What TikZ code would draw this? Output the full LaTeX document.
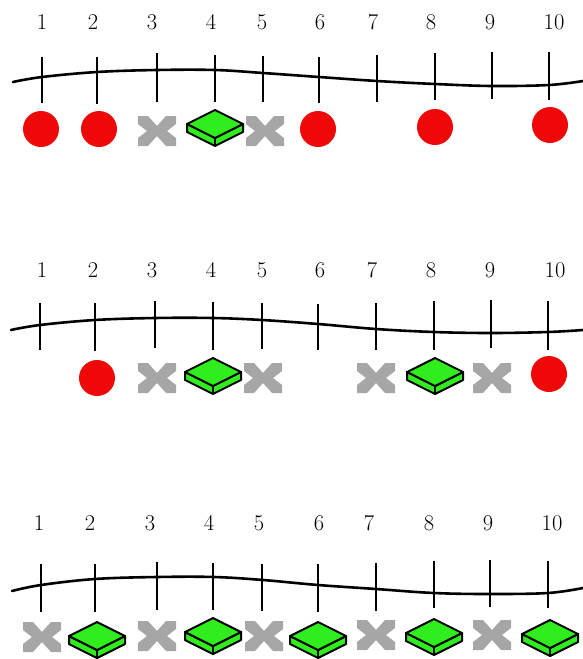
\documentclass[tikz,border=0pt]{standalone}
\begin{document}
\begin{tikzpicture}[x=1pt,y=-1pt]
\definecolor{stonered}{RGB}{238,8,8}
\definecolor{blockgreen}{RGB}{48,238,30}
\definecolor{crossgray}{RGB}{166,166,166}
\tikzset{
  numlabel/.style={font=\fontsize{22.5}{26}\selectfont, inner sep=0pt},
  rope/.style={line width=2.6pt, line cap=round, line join=round},
  tickline/.style={line width=2.6pt},
  stone/.pic={\fill[stonered] (0,0) circle (18pt);},
  cross/.pic={\fill[crossgray]
    (-19,-15) -- (-9,-15) -- (0,-5) -- (9,-15) -- (19,-15) -- (19,-7) -- (10,0)
    -- (19,7) -- (19,15) -- (9,15) -- (0,5) -- (-9,15) -- (-19,15) -- (-19,7)
    -- (-10,0) -- (-19,-7) -- cycle;},
  block/.pic={
    \filldraw[fill=blockgreen, draw=black, line width=2pt, line join=round]
      (-28,0) -- (0,14) -- (28,0) -- (28,8) -- (0,22) -- (-28,8) -- cycle;
    \draw[line width=2pt] (0,14) -- (0,22);
    \filldraw[fill=blockgreen, draw=black, line width=2pt, line join=round]
      (-28,0) -- (0,-14) -- (28,0) -- (0,14) -- cycle;}
}
\useasboundingbox (0,0) rectangle (583,659);

% ---------- row 1 ----------
\foreach \n/\x in {1/42,2/93,3/152,4/211,5/262,6/320,7/373,8/431,9/490,10/554}
  \node[numlabel] (ra\n) at (\x,22) {\n};
\draw[rope] plot[smooth, tension=0.6] coordinates {(13,82) (42,77) (97,72) (157,70) (215,70) (263,73) (319,77) (377,81) (435,84) (492,86) (549,85) (583,81)};
\foreach \x/\t/\b in {42/57/103,97/57/104,157/53/102,215/55/102,263/56/102,319/57/103,377/55/102,435/53/100,492/52/99,549/52/100}
  \draw[tickline] (\x,\t) -- (\x,\b);
\pic at (41,129) {stone};
\pic at (99,129) {stone};
\pic at (157,131) {cross};
\pic at (215,124) {block};
\pic at (265,131) {cross};
\pic at (318,129) {stone};
\pic at (435,127) {stone};
\pic at (550,125) {stone};

% ---------- row 2 ----------
\foreach \n/\x in {1/42,2/93,3/152,4/211,5/262,6/320,7/372,8/431,9/490,10/555}
  \node[numlabel] (rb\n) at (\x,270) {\n};
\draw[rope] plot[smooth, tension=0.6] coordinates {(11,330) (40,325) (95,320) (155,318) (213,318) (262,320) (318,324) (376,329) (434,332) (491,333) (548,332) (583,330)};
\foreach \x/\t/\b in {40/303/350,95/303/351,155/301/348,213/302/350,262/303/349,318/304/350,376/303/350,434/301/350,491/300/348,548/301/350}
  \draw[tickline] (\x,\t) -- (\x,\b);
\pic at (97,378) {stone};
\pic at (157,378) {cross};
\pic at (213,372) {block};
\pic at (263,378) {cross};
\pic at (376,378) {cross};
\pic at (435,372) {block};
\pic at (492,378) {cross};
\pic at (549,374) {stone};

% ---------- row 3 ----------
\foreach \n/\x in {1/39,2/90,3/150,4/209,5/259,6/319,7/369,8/429,9/488,10/552}
  \node[numlabel] (rc\n) at (\x,523) {\n};
\draw[rope] plot[smooth, tension=0.6] coordinates {(12,591) (41,585) (95,579) (157,577) (214,577) (263,580) (318,585) (376,589) (434,593) (490,594) (548,593) (583,588)};
\foreach \x/\t/\b in {41/564/612,95/564/612,157/562/610,213/563/610,262/564/611,318/564/612,376/563/611,434/561/608,490/560/607,548/561/608}
  \draw[tickline] (\x,\t) -- (\x,\b);
\pic at (42,637) {cross};
\pic at (97,636) {block};
\pic at (157,636) {cross};
\pic at (213,632) {block};
\pic at (264,636) {cross};
\pic at (318,636) {block};
\pic at (376,635) {cross};
\pic at (434,633) {block};
\pic at (492,635) {cross};
\pic at (550,634) {block};
\end{tikzpicture}
\end{document}
